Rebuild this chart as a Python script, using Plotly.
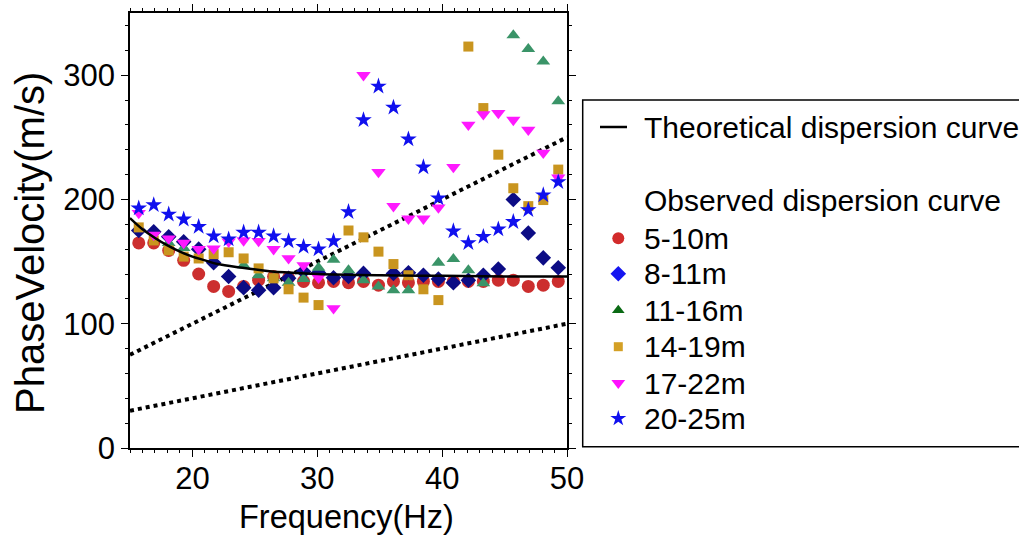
import plotly.graph_objects as go

# ---------------- data ----------------
freq = [15.7, 16.9, 18.1, 19.3, 20.5, 21.7, 22.9, 24.1, 25.3, 26.5,
        27.7, 28.9, 30.1, 31.3, 32.5, 33.7, 34.9, 36.1, 37.3, 38.5,
        39.7, 40.9, 42.1, 43.3, 44.5, 45.7, 46.9, 48.1, 49.3]

v_5_10 = [165, 165, 159, 151, 140, 130, 126, 130, 135, 138,
          137, 134, 133, 134, 133, 134, 131, 134, 133, 134,
          134, 134, 134, 134, 135, 135, 130, 131, 134]
v_8_11 = [175, 174, 170, 166, 160, 149, 138, 129, 127, 129,
          136.5, 142, 141, 137, 138, 140.5, None, 140.5, 141, 139,
          136, 133, 135, 139, 144, 200, 173, 153, 145]
v_11_16 = [None, None, 165, 161, None, None, None, 147, 139, 136.5,
           133, 136, 145, 151.5, 143, 135, 130, 127, 127, None,
           149, 152, 143, 132.5, None, 332, 321, 311, 279]
v_14_19 = [177.5, 167, 159, 154, 152.5, 156, 157.5, 152.5, 144.5, 136.5,
           127.7, 121, 115, None, 175, 169.5, 158, 148, 139, 127.7,
           119, None, 323, 273.5, 236, 209, 194.6, 199.5, 224]
v_17_22 = [189, 171.5, 168.5, 165, 160, 160.5, 166, 167, 166.5, 160,
           152.6, 147, 137, 112.4, None, 300, 222, 194.6, 184.5, 184.5,
           193.5, 226, 260, 268.5, 269.5, 264, 256, 237.5, 217.5]
v_20_25 = [193, 195.5, 188, 184, 178, 170.5, 168, 173.5, 173.5, 170.5,
           166.5, 162, 160, 166.5, 190, 264, 291, 274, 248.5, 226,
           201, 174.5, 165, 170, 176, 182, 191.5, 203.5, 214]

theory_f = [15, 16, 17, 18, 19, 20, 21, 22, 24, 26, 28, 30, 35, 40, 45, 50]
theory_v = [185, 176, 169, 163, 158, 154, 151, 148, 145, 142.5, 141, 140, 139, 138.5, 138, 138]

ref_f = [15, 50]
ref_high = [75, 250]   # upper dotted reference line
ref_low = [30, 100]    # lower dotted reference line

series_names = ["5-10m", "8-11m", "11-16m", "14-19m", "17-22m", "20-25m"]
series_values = [v_5_10, v_8_11, v_11_16, v_14_19, v_17_22, v_20_25]
theory_name = "Theoretical dispersion curve"
observed_title = "Observed dispersion curve"

x_ticks = [20, 30, 40, 50]
y_ticks = [0, 100, 200, 300]

# ---------------- layout constants (pixels in a 1019x536 page) ----------------
W, H = 1019, 536
PLOT_L, PLOT_R, PLOT_T, PLOT_B = 130, 567, 13, 448
FONT = "Liberation Sans, Arial, Helvetica, sans-serif"

# legend geometry (pixel coordinates on the overlay axis)
LEG_BOX = (582.7, 100, 1040, 446.7)
LEG_SYM_X = 618.3
LEG_TXT_X = 641.5
LEG_LINE_X = (600, 627)
LEG_Y_THEORY = 127
LEG_Y_TITLE = 200
LEG_Y_ITEMS = [238.3, 273.8, 310.2, 346.7, 383.0, 418.5]

plot_style = [
    dict(symbol="circle", color="#cc2e2e", size=13),
    dict(symbol="diamond", color="#0c0c85", size=12),
    dict(symbol="triangle-up", color="#3a9468", size=12),
    dict(symbol="square", color="#c9951f", size=10),
    dict(symbol="triangle-down", color="#ff19ff", size=12.5),
    dict(symbol="star", color="#1010ee", size=12.5),
]
legend_style = [
    dict(symbol="circle", color="#d22b2b", size=12),
    dict(symbol="diamond", color="#1515f0", size=12),
    dict(symbol="triangle-up", color="#0a6a14", size=11),
    dict(symbol="square", color="#d4a025", size=9),
    dict(symbol="triangle-down", color="#ff10ff", size=12),
    dict(symbol="star", color="#1010ee", size=12),
]

fig = go.Figure()

# reference dotted lines
for yy in (ref_high, ref_low):
    fig.add_trace(go.Scatter(x=ref_f, y=yy, mode="lines",
                             line=dict(color="black", width=4, dash="4px,4px"),
                             showlegend=False, hoverinfo="skip"))

# observed points
for name, vals, st in zip(series_names, series_values, plot_style):
    fig.add_trace(go.Scatter(x=freq, y=vals, mode="markers", name=name,
                             marker=dict(symbol=st["symbol"], color=st["color"], size=st["size"],
                                         line=dict(width=0)),
                             showlegend=False))

# theoretical curve
fig.add_trace(go.Scatter(x=theory_f, y=theory_v, mode="lines", name=theory_name,
                         line=dict(color="black", width=2.5, shape="spline"),
                         showlegend=False))

# ---------------- hand-built legend on an overlay axis ----------------
fig.add_trace(go.Scatter(x=list(LEG_LINE_X), y=[LEG_Y_THEORY, LEG_Y_THEORY], mode="lines",
                         line=dict(color="black", width=2.5), xaxis="x2", yaxis="y2",
                         showlegend=False, hoverinfo="skip"))
for st, yy in zip(legend_style, LEG_Y_ITEMS):
    fig.add_trace(go.Scatter(x=[LEG_SYM_X], y=[yy], mode="markers", xaxis="x2", yaxis="y2",
                             marker=dict(symbol=st["symbol"], color=st["color"], size=st["size"],
                                         line=dict(width=0)),
                             showlegend=False, hoverinfo="skip"))

annotations = []
for txt, yy in [(theory_name, LEG_Y_THEORY), (observed_title, LEG_Y_TITLE)] + list(zip(series_names, LEG_Y_ITEMS)):
    annotations.append(dict(text=txt, x=LEG_TXT_X, y=yy, xref="x2", yref="y2",
                            xanchor="left", yanchor="middle", showarrow=False,
                            font=dict(family=FONT, size=30, color="black")))
# axis titles
annotations.append(dict(text="Frequency(Hz)", x=346.5 / W, y=1 - 517 / H, xref="paper", yref="paper",
                        xanchor="center", yanchor="middle", showarrow=False,
                        font=dict(family=FONT, size=32.5, color="black")))
annotations.append(dict(text="PhaseVelocity(m/s)", x=30 / W, y=1 - 243 / H, xref="paper", yref="paper",
                        xanchor="center", yanchor="middle", showarrow=False, textangle=-90,
                        font=dict(family=FONT, size=40, color="black")))

shapes = [dict(type="rect", xref="x2", yref="y2",
               x0=LEG_BOX[0], y0=LEG_BOX[1], x1=LEG_BOX[2], y1=LEG_BOX[3],
               line=dict(color="black", width=1.5), fillcolor="rgba(0,0,0,0)", layer="below")]

axis_common = dict(showline=True, linecolor="black", linewidth=1.5, mirror="allticks",
                   ticks="outside", tickcolor="black", tickwidth=1.2, ticklen=7,
                   showgrid=False, zeroline=False, automargin=False,
                   tickfont=dict(family=FONT, size=31, color="black"))

fig.update_layout(
    width=W, height=H,
    margin=dict(l=0, r=0, t=0, b=0, autoexpand=False),
    paper_bgcolor="white", plot_bgcolor="rgba(0,0,0,0)",
    font=dict(family=FONT, color="black"),
    xaxis=dict(domain=[PLOT_L / W, PLOT_R / W], range=[15, 50], tickvals=x_ticks,
               minor=dict(dtick=1, ticks="outside", ticklen=3, tickcolor="black", tickwidth=1),
               ticklabelstandoff=-5, **axis_common),
    yaxis=dict(domain=[1 - PLOT_B / H, 1 - PLOT_T / H], range=[0, 350], tickvals=y_ticks,
               minor=dict(dtick=20, ticks="outside", ticklen=3, tickcolor="black", tickwidth=1),
               **axis_common),
    xaxis2=dict(domain=[0, 1], range=[0, W], visible=False, anchor="y2"),
    yaxis2=dict(domain=[0, 1], range=[H, 0], visible=False, anchor="x2"),
    annotations=annotations,
    shapes=shapes,
    showlegend=False,
)

fig.write_html("out.html")
